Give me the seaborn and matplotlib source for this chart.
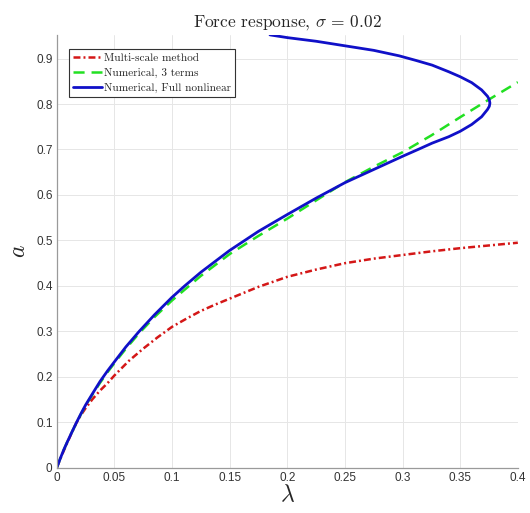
import matplotlib
matplotlib.use("Agg")
import matplotlib.pyplot as plt
import seaborn as sns
import pandas as pd

# Multi-scale (first-order) approximation
lam_ms = [0.0, 0.003, 0.006, 0.0095, 0.013, 0.0173, 0.021, 0.025, 0.031, 0.0376,
          0.044, 0.05, 0.0625, 0.075, 0.0875, 0.1, 0.1125, 0.125, 0.1375, 0.15,
          0.175, 0.2, 0.225, 0.25, 0.275, 0.3, 0.325, 0.35, 0.375, 0.4]
a_ms = [0.0, 0.019, 0.037, 0.057, 0.077, 0.10, 0.116, 0.131, 0.151, 0.17,
        0.186, 0.203, 0.235, 0.262, 0.287, 0.31, 0.328, 0.345, 0.359, 0.372,
        0.398, 0.42, 0.436, 0.45, 0.46, 0.468, 0.476, 0.483, 0.489, 0.495]

# Numerical solution, three-term expansion
lam_3t = [0.0, 0.003, 0.006, 0.009, 0.0125, 0.0168, 0.021, 0.025, 0.031, 0.0376,
          0.044, 0.05, 0.06, 0.0715, 0.085, 0.1, 0.125, 0.15, 0.175, 0.2,
          0.225, 0.25, 0.275, 0.3, 0.325, 0.35, 0.375, 0.4]
a_3t = [0.0, 0.02, 0.039, 0.056, 0.075, 0.097, 0.118, 0.137, 0.161, 0.187,
        0.21, 0.23, 0.262, 0.296, 0.332, 0.368, 0.422, 0.47, 0.51, 0.548,
        0.588, 0.628, 0.662, 0.694, 0.731, 0.771, 0.81, 0.848]

# Numerical solution, full nonlinear model (folds back past the turning point)
lam_fn = [0.0, 0.003, 0.006, 0.009, 0.0125, 0.0168, 0.021, 0.025, 0.031, 0.0376,
          0.044, 0.05, 0.06, 0.0715, 0.085, 0.1, 0.111, 0.125, 0.15, 0.175,
          0.2, 0.225, 0.25, 0.275, 0.3, 0.3143, 0.3257, 0.34, 0.35, 0.36,
          0.3686, 0.3737, 0.3753, 0.3758, 0.3752, 0.3737, 0.3686, 0.36, 0.35, 0.34,
          0.3257, 0.3114, 0.297, 0.275, 0.25, 0.225, 0.2, 0.185]
a_fn = [0.0, 0.02, 0.039, 0.056, 0.075, 0.098, 0.119, 0.138, 0.163, 0.19,
        0.213, 0.233, 0.266, 0.30, 0.337, 0.375, 0.40, 0.43, 0.478, 0.52,
        0.557, 0.593, 0.627, 0.656, 0.685, 0.701, 0.714, 0.728, 0.74, 0.755,
        0.772, 0.788, 0.795, 0.802, 0.81, 0.817, 0.831, 0.847, 0.86, 0.871,
        0.8855, 0.896, 0.906, 0.918, 0.928, 0.938, 0.946, 0.952]

x_ticks = [0, 0.05, 0.1, 0.15, 0.2, 0.25, 0.3, 0.35, 0.4]
x_tick_labels = ["0", "0.05", "0.1", "0.15", "0.2", "0.25", "0.3", "0.35", "0.4"]
y_ticks = [0, 0.1, 0.2, 0.3, 0.4, 0.5, 0.6, 0.7, 0.8, 0.9]
y_tick_labels = ["0", "0.1", "0.2", "0.3", "0.4", "0.5", "0.6", "0.7", "0.8", "0.9"]

sns.set_theme(style="whitegrid")
plt.rcParams["font.family"] = ["Liberation Sans", "DejaVu Sans"]
plt.rcParams["mathtext.fontset"] = "cm"
plt.rcParams["lines.scale_dashes"] = False

fig = plt.figure(figsize=(5.30, 5.13), dpi=100)
ax = fig.add_axes([0.107, 0.088, 0.870, 0.844])

df_ms = pd.DataFrame({"lam": lam_ms, "a": a_ms})
df_3t = pd.DataFrame({"lam": lam_3t, "a": a_3t})
df_fn = pd.DataFrame({"lam": lam_fn, "a": a_fn})

sns.lineplot(data=df_ms, x="lam", y="a", ax=ax, sort=False, estimator=None,
             color="#d41717", lw=1.8, linestyle=(0, (5, 2.2, 1.4, 2.2)),
             label="Multi-scale method")
sns.lineplot(data=df_3t, x="lam", y="a", ax=ax, sort=False, estimator=None,
             color="#22e022", lw=1.8, linestyle=(0, (8, 5)),
             label="Numerical, 3 terms")
sns.lineplot(data=df_fn, x="lam", y="a", ax=ax, sort=False, estimator=None,
             color="#1010c8", lw=2.0, linestyle="-",
             label="Numerical, Full nonlinear")
for line in ax.lines:
    line.set_solid_joinstyle("round")
    line.set_dash_joinstyle("round")

ax.set_xlim(0, 0.4)
ax.set_ylim(0, 0.952)
ax.set_xticks(x_ticks)
ax.set_xticklabels(x_tick_labels)
ax.set_yticks(y_ticks)
ax.set_yticklabels(y_tick_labels)

ax.grid(True, color="#e6e6e6", linewidth=0.7)
for side in ("top", "right"):
    ax.spines[side].set_visible(False)
for side in ("left", "bottom"):
    ax.spines[side].set_color("#9a9a9a")
    ax.spines[side].set_linewidth(0.9)
ax.tick_params(axis="both", direction="in", length=3.5, width=0.8,
               color="#9a9a9a", labelsize=8.5, labelcolor="#333333", pad=3)

ax.set_xlabel(r"$\lambda$", fontsize=17, labelpad=0)
ax.set_ylabel(r"$a$", fontsize=17, labelpad=4)
ax.set_title(r"Force response, $\sigma\,=\,0.02$", fontsize=12.5,
             family="cmr10", pad=6)

leg = ax.legend(loc="upper left", bbox_to_anchor=(0.02, 0.975),
                prop={"family": "cmr10", "size": 8.1},
                handlelength=2.6, handletextpad=0.15, borderpad=0.35,
                labelspacing=0.45, borderaxespad=0.3, frameon=True,
                fancybox=False)
leg.get_frame().set_edgecolor("#333333")
leg.get_frame().set_linewidth(0.8)
leg.get_frame().set_alpha(1)

fig.savefig("out.png", dpi=100)
